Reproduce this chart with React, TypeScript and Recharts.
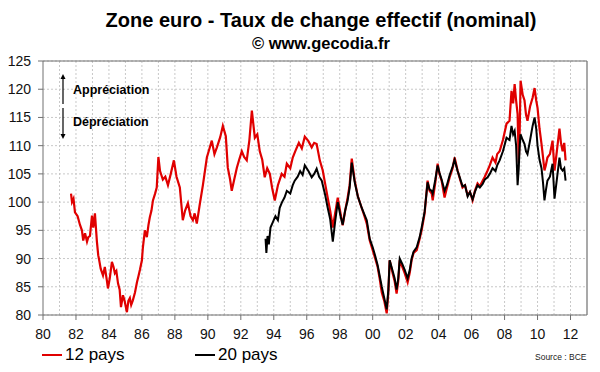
import { CartesianGrid, Line, LineChart, ReferenceLine, XAxis, YAxis } from 'recharts'

// 12 pays (red)
const dates12 = [
  1981.7, 1981.76, 1981.85, 1981.94, 1982.1, 1982.24, 1982.36, 1982.44, 1982.55, 1982.67, 1982.75, 1982.85,
  1982.97, 1983.05, 1983.15, 1983.27, 1983.35, 1983.41, 1983.5, 1983.64, 1983.75, 1983.88, 1983.94, 1984.05,
  1984.18, 1984.28, 1984.36, 1984.45, 1984.55, 1984.65, 1984.73, 1984.85, 1984.95, 1985.09, 1985.18, 1985.27,
  1985.35, 1985.45, 1985.58, 1985.7, 1985.8, 1985.88, 1986.0, 1986.06, 1986.18, 1986.3, 1986.4, 1986.48,
  1986.58, 1986.67, 1986.8, 1986.9, 1987.0, 1987.1, 1987.27, 1987.42, 1987.58, 1987.75, 1987.94, 1988.1,
  1988.3, 1988.48, 1988.62, 1988.79, 1988.95, 1989.09, 1989.2, 1989.33, 1989.52, 1989.7, 1989.94,
  1990.1, 1990.24, 1990.4, 1990.55, 1990.75, 1990.91, 1991.09, 1991.21, 1991.35, 1991.45, 1991.6, 1991.76,
  1991.9, 1992.06, 1992.2, 1992.36, 1992.52, 1992.67, 1992.85, 1993.0, 1993.15, 1993.3, 1993.45, 1993.6,
  1993.76, 1993.9, 1994.06, 1994.25, 1994.48, 1994.65, 1994.79, 1995.0, 1995.15, 1995.3, 1995.52, 1995.7,
  1995.88, 1996.1, 1996.3, 1996.45, 1996.6, 1996.79, 1996.97, 1997.1, 1997.27, 1997.42, 1997.58, 1997.72,
  1997.88, 1998.05, 1998.18, 1998.33, 1998.48, 1998.6, 1998.73, 1998.91, 1999.1, 1999.33, 1999.5, 1999.64,
  1999.82, 2000.0, 2000.15, 2000.3, 2000.42, 2000.55, 2000.7, 2000.85, 2000.95, 2001.03, 2001.21, 2001.33,
  2001.45, 2001.55, 2001.64, 2001.8, 2001.94, 2002.12, 2002.25, 2002.36, 2002.48, 2002.67, 2002.85, 2002.97,
  2003.15, 2003.33, 2003.45, 2003.58, 2003.64, 2003.8, 2003.94, 2004.05, 2004.18, 2004.36, 2004.5, 2004.67,
  2004.85, 2004.97, 2005.15, 2005.3, 2005.45, 2005.6, 2005.76, 2005.9, 2006.06, 2006.2, 2006.36, 2006.5,
  2006.67, 2006.8, 2006.97, 2007.1, 2007.27, 2007.45, 2007.55, 2007.7, 2007.9, 2008.12, 2008.3, 2008.42,
  2008.52, 2008.61, 2008.7, 2008.79, 2008.86, 2008.92, 2008.97, 2009.1, 2009.21, 2009.3, 2009.39, 2009.55,
  2009.7, 2009.82, 2009.92, 2010.0, 2010.12, 2010.24, 2010.33, 2010.42, 2010.5, 2010.6, 2010.75, 2010.91,
  2011.03, 2011.15, 2011.33, 2011.42, 2011.52, 2011.62, 2011.7,
]
const values12 = [
  101.5, 100, 100.6, 98.2, 97.5, 96, 95, 93.2, 94.5, 93, 93.8, 94,
  97.6, 95.5, 98, 93, 90.6, 89.7, 88.2, 87, 88.5, 86, 84.7, 86.5,
  89.4, 88.5, 87.4, 87.8, 85.6, 84.5, 81.4, 83.5, 82.5, 80.5, 82.5, 83,
  81.8, 82.6, 84, 85.8, 87, 88, 89.7, 92, 95, 93.8, 96, 97.3,
  98.5, 100.3, 101.5, 102.6, 108, 105.5, 104, 104.5, 103, 105, 107.4, 104.5,
  102.6, 96.8, 98.5, 99.8, 97.5, 96.8, 98, 96.2, 99.8, 103, 107.9,
  109.5, 110.9, 108.5, 109.7, 111.5, 113.5, 111.7, 106.1, 104, 102, 104, 106.1,
  107.5, 109, 108, 107.4, 111, 116.2, 111.4, 112, 109, 107.5, 104.4, 106,
  105, 102.5, 100.3, 103, 105, 104.5, 106.8, 106, 107.9, 109, 110.5, 109.5,
  111.6, 110.8, 109.7, 110.5, 110.3, 107.4, 105.6, 103.5, 100.8, 98.5, 95.5, 98,
  100.8, 98, 95.9, 98.5, 100.8, 103, 107.7, 103.8, 101, 99, 97.5, 96.2,
  93.2, 91.5, 90, 88.5, 86.5, 84, 82.5, 80.3, 84, 89.7, 87.4, 86,
  83.8, 86, 89.7, 88.5, 87.4, 85.8, 87.5, 89.7, 91, 91.5, 93.5, 95,
  98, 103.8, 102, 101.5, 100.3, 103.5, 106.8, 105, 103.8, 100.8, 102.5, 104.4,
  106, 107.9, 105.6, 104, 102.6, 103, 101.2, 101.8, 100.3, 102, 103.3, 102.8,
  103.8, 104.5, 105.6, 106.5, 107.9, 107, 108.5, 109, 111, 113.9, 114.4, 119.7,
  117.5, 120.9, 118, 115.6, 107, 113, 121.5, 119, 118, 115.5, 114.4, 117,
  118.5, 120.2, 118, 116.7, 113, 110.3, 108, 105.6, 106.5, 107.9, 108.5, 110.9,
  105.6, 108.5, 113, 110.5, 109, 110.5, 107.4,
]

// 20 pays (black)
const dates20 = [
  1993.5, 1993.55, 1993.62, 1993.7, 1993.8, 1993.95, 1994.1, 1994.25, 1994.36, 1994.5, 1994.65, 1994.79,
  1995.0, 1995.15, 1995.27, 1995.45, 1995.6, 1995.75, 1995.88, 1996.1, 1996.3, 1996.45, 1996.6, 1996.75,
  1996.91, 1997.1, 1997.27, 1997.42, 1997.58, 1997.72, 1997.88, 1998.05, 1998.18, 1998.33, 1998.48, 1998.6,
  1998.73, 1998.91, 1999.1, 1999.33, 1999.5, 1999.64, 1999.82, 2000.0, 2000.15, 2000.3, 2000.42, 2000.55,
  2000.7, 2000.85, 2000.95, 2001.03, 2001.21, 2001.33, 2001.45, 2001.55, 2001.64, 2001.8, 2001.94, 2002.12,
  2002.25, 2002.36, 2002.48, 2002.67, 2002.85, 2002.97, 2003.15, 2003.33, 2003.45, 2003.58, 2003.64, 2003.8,
  2003.94, 2004.05, 2004.18, 2004.36, 2004.5, 2004.67, 2004.85, 2004.97, 2005.15, 2005.3, 2005.45, 2005.6,
  2005.76, 2005.9, 2006.06, 2006.2, 2006.36, 2006.5, 2006.67, 2006.8, 2006.97, 2007.1, 2007.27, 2007.45,
  2007.55, 2007.7, 2007.9, 2008.12, 2008.3, 2008.42, 2008.52, 2008.61, 2008.7, 2008.79, 2008.86, 2008.92,
  2008.97, 2009.1, 2009.21, 2009.3, 2009.39, 2009.55, 2009.7, 2009.82, 2009.92, 2010.0, 2010.12, 2010.24,
  2010.33, 2010.42, 2010.5, 2010.6, 2010.75, 2010.91, 2011.03, 2011.15, 2011.33, 2011.42, 2011.52, 2011.62,
  2011.7,
]
const values20 = [
  93.5, 91, 94, 92.5, 95.5, 96.5, 97.5, 96.8, 99, 100, 100.8, 102,
  101.5, 103, 103.8, 104.5, 105.5, 104.8, 106.5, 105.5, 104.4, 105, 105.9, 104.5,
  103.8, 101.5, 99, 97, 93, 96.5, 100, 97.5, 96, 98.5, 100.3, 102.5,
  107, 103.5, 101, 99, 97.8, 96.8, 93.5, 92, 90.5, 88.8, 87, 85,
  83, 81, 84.5, 89.7, 87.8, 86.5, 84.5, 86.5, 90, 89, 88, 86.5, 88,
  90, 91.2, 92, 93.8, 95.5, 98.3, 103.5, 102.2, 102, 101.5, 104, 106.5,
  105.2, 104, 102, 103, 104.8, 106.3, 107.5, 105.5, 104.2, 102.8, 103,
  101, 101.8, 100.5, 101.8, 103, 102.6, 103.2, 104, 104.4, 105, 106, 105.5,
  106.5, 107.4, 109, 111.4, 111, 113.5, 112, 112.6, 110, 103, 106, 110,
  112, 111, 110.3, 109, 108.5, 111, 113.5, 115, 113, 110, 107.5, 106,
  103.5, 100.3, 102, 103.8, 104.5, 106.8, 100.6, 103.5, 107.9, 106, 105.6, 106,
  103.8,
]

const yTicks = [80, 85, 90, 95, 100, 105, 110, 115, 120, 125]
const xTicks = [1980, 1982, 1984, 1986, 1988, 1990, 1992, 1994, 1996, 1998, 2000, 2002, 2004, 2006, 2008, 2010, 2012]
const gridYears = [
  1981, 1982, 1983, 1984, 1985, 1986, 1987, 1988, 1989, 1990, 1991, 1992, 1993, 1994, 1995, 1996,
  1997, 1998, 1999, 2000, 2001, 2002, 2003, 2004, 2005, 2006, 2007, 2008, 2009, 2010, 2011, 2012,
]

const pays12 = dates12.map((t, i) => ({ t, v: values12[i] }))
const pays20 = dates20.map((t, i) => ({ t, v: values20[i] }))

const font = '"Liberation Sans", Arial, sans-serif'
const fmtYear = (y: number) => String(y % 100).padStart(2, '0')

const Arrow = ({ y1, y2, up }: { y1: number; y2: number; up: boolean }) => (
  <svg style={{ position: 'absolute', left: 58, top: Math.min(y1, y2) - 2, overflow: 'visible' }} width={10} height={Math.abs(y2 - y1) + 4}>
    <line x1={5} x2={5} y1={up ? 4 : 0} y2={Math.abs(y2 - y1) + (up ? 2 : -2)} stroke="#000" strokeWidth={1.2} />
    {up ? (
      <polygon points="5,0 2.5,5 7.5,5" fill="#000" />
    ) : (
      <polygon points={`5,${Math.abs(y2 - y1) + 2} 2.5,${Math.abs(y2 - y1) - 3} 7.5,${Math.abs(y2 - y1) - 3}`} fill="#000" />
    )}
  </svg>
)

export default function App() {
  return (
    <div style={{ position: 'absolute', left: 0, top: 0, width: 600, height: 372, background: '#fff', fontFamily: font }}>
      <div style={{ position: 'absolute', left: 0, width: 600, top: 9, textAlign: 'center', fontSize: 20, fontWeight: 'bold', paddingLeft: 42, boxSizing: 'border-box' }}>
        Zone euro - Taux de change effectif (nominal)
      </div>
      <div style={{ position: 'absolute', left: 0, width: 600, top: 34, textAlign: 'center', fontSize: 16.5, fontWeight: 'bold', paddingLeft: 42, boxSizing: 'border-box' }}>
        © www.gecodia.fr
      </div>
      <LineChart width={600} height={372} data={pays12} margin={{ top: 61, right: 13, bottom: 27, left: 0 }}>
        <CartesianGrid vertical={false} stroke="#c8c8c8" strokeDasharray="2 2" />
        {gridYears.map((y) => (
          <ReferenceLine key={y} x={y} stroke="#c8c8c8" strokeDasharray="2 2" />
        ))}
        <ReferenceLine y={125} stroke="#707070" strokeWidth={1.2} />
        <ReferenceLine x={2013} stroke="#707070" strokeWidth={1.2} />
        <XAxis
          type="number"
          dataKey="t"
          domain={[1980, 2013]}
          ticks={xTicks}
          tickFormatter={fmtYear}
          allowDataOverflow
          height={30}
          tickSize={5}
          stroke="#707070"
          tick={{ fill: '#111', fontSize: 14, fontFamily: font, dy: 7 }}
        />
        <YAxis
          type="number"
          domain={[80, 125]}
          ticks={yTicks}
          width={43}
          tickSize={5}
          stroke="#707070"
          tick={{ fill: '#111', fontSize: 14, fontFamily: font, dx: -5 }}
        />
        <Line data={pays12} dataKey="v" type="linear" stroke="#e00000" strokeWidth={2.2} dot={false} isAnimationActive={false} />
        <Line data={pays20} dataKey="v" type="linear" stroke="#000" strokeWidth={2} dot={false} isAnimationActive={false} />
      </LineChart>
      <Arrow y1={76} y2={104} up />
      <Arrow y1={110} y2={139} up={false} />
      <div style={{ position: 'absolute', left: 73, top: 83, fontSize: 12.5, fontWeight: 'bold' }}>Appréciation</div>
      <div style={{ position: 'absolute', left: 73, top: 115, fontSize: 12.5, fontWeight: 'bold' }}>Dépréciation</div>
      <div style={{ position: 'absolute', left: 42, top: 345, fontSize: 17, display: 'flex', alignItems: 'center' }}>
        <span style={{ display: 'inline-block', width: 20, height: 2, background: '#e00000', marginRight: 3 }} />
        12 pays
      </div>
      <div style={{ position: 'absolute', left: 195, top: 345, fontSize: 17, display: 'flex', alignItems: 'center' }}>
        <span style={{ display: 'inline-block', width: 20, height: 1.5, background: '#000', marginRight: 3 }} />
        20 pays
      </div>
      <div style={{ position: 'absolute', left: 535, top: 352, fontSize: 8.5, color: '#222' }}>Source : BCE</div>
    </div>
  )
}
